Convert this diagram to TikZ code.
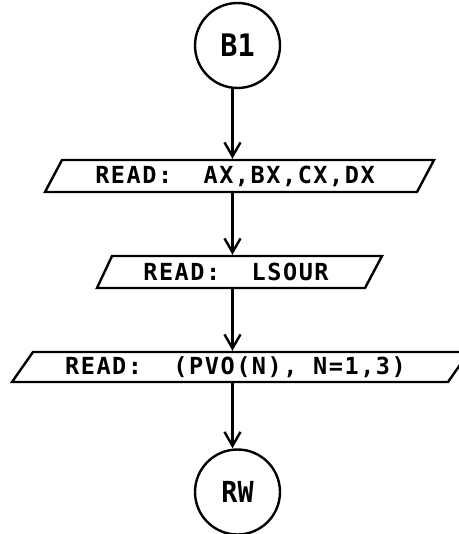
\documentclass[tikz,border=0pt]{standalone}
\usepackage{fontspec}
\usetikzlibrary{arrows.meta}
% Line-printer style lettering
\newfontfamily\printfont[LetterSpace=6.6]{DejaVu Sans Mono}
\newfontfamily\labelfont[FakeStretch=0.92]{DejaVu Sans Mono}
\begin{document}
\begin{tikzpicture}[x=1pt,y=-1pt,line width=2.4pt,
  conn/.style={circle,draw,minimum size=85pt,inner sep=0pt,
    font=\labelfont\bfseries\fontsize{31}{31}\selectfont},
  iotext/.style={inner sep=0pt,minimum height=32pt,
    font=\printfont\bfseries\fontsize{23.5}{23.5}\selectfont},
  io/.style={draw,line join=miter},
  flow/.style={-{Straight Barb[length=14pt,width=16pt]}}]
\useasboundingbox (0,0) rectangle (458,534);

% connectors and input texts
\node[conn] (b1) at (237.5,45.5) {B1};
\node[iotext] (r1) at (235,176) {READ:~~AX,BX,CX,DX};
\node[iotext] (r2) at (236,272) {READ:~~LSOUR};
\node[iotext,minimum height=30pt] (r3) at (235.5,367) {READ:~~(PVO(N),~N=1,3)};
\node[conn,font=\labelfont\bfseries\fontsize{29}{29}\selectfont] (rw) at (237.5,492) {RW};

% input parallelograms
\draw[io] (45,192) -- (62,160) -- (434,160) -- (417,192) -- cycle;
\draw[io] (97,288) -- (112,256) -- (382,256) -- (365,288) -- cycle;
\draw[io] (12,382) -- (33,352) -- (469,352) -- (448,382) -- cycle;

% flow lines
\coordinate (ax) at (232.5,0);
\draw[flow] (b1.south -| ax) -- (r1.north -| ax);
\draw[flow] (r1.south -| ax) -- (r2.north -| ax);
\draw[flow] (r2.south -| ax) -- (r3.north -| ax);
\draw[flow] (r3.south -| ax) -- (rw.north -| ax);
\end{tikzpicture}
\end{document}
